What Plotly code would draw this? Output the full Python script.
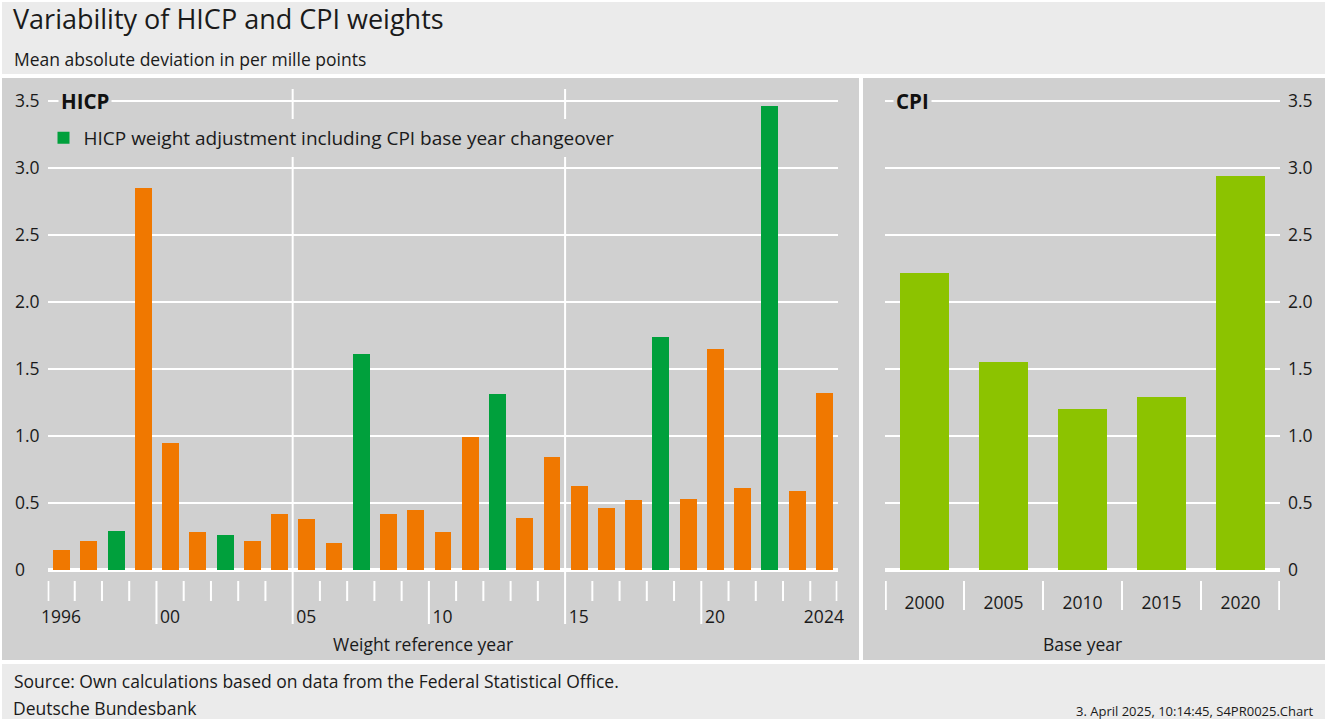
import plotly.graph_objects as go

# ---------------- data ----------------
hicp_years = list(range(1996, 2025))
hicp_values = [0.15, 0.22, 0.29, 2.85, 0.95, 0.28, 0.26, 0.22, 0.42, 0.38,
               0.20, 1.61, 0.42, 0.45, 0.28, 0.99, 1.31, 0.39, 0.84, 0.63,
               0.46, 0.52, 1.74, 0.53, 1.65, 0.61, 3.46, 0.59, 1.32]
adjustment_years = [1998, 2002, 2007, 2012, 2018, 2022]

cpi_years = ["2000", "2005", "2010", "2015", "2020"]
cpi_values = [2.22, 1.55, 1.20, 1.29, 2.94]

y_ticks = [0, 0.5, 1.0, 1.5, 2.0, 2.5, 3.0, 3.5]
y_tick_labels_left = ["0\u2008\u2007", "0.5", "1.0", "1.5", "2.0", "2.5", "3.0", "3.5"]
y_tick_labels_right = ["0", "0.5", "1.0", "1.5", "2.0", "2.5", "3.0", "3.5"]
hicp_tick_years = [1996, 2000, 2005, 2010, 2015, 2020, 2024]
hicp_tick_labels = ["1996", "00", "05", "10", "15", "20", "2024"]

legend_label = "HICP weight adjustment including CPI base year changeover"

# ---------------- style ----------------
W, H = 1328, 722
FONT = "Open Sans"
TXT = "#1a1a1a"
PANEL = "#d0d0d0"
HEAD = "#ebebeb"
ORANGE = "#f07800"
GREEN = "#00a03c"
LIME = "#8cc300"


def px(x):
    return x / W


def py(y):
    return 1 - y / H


zero_px, top35_px, dom_top_px = 570, 101, 87
unit = (zero_px - top35_px) / 3.5
y_top = (zero_px - dom_top_px) / unit

orange_x = [y for y in hicp_years if y not in adjustment_years]
orange_y = [v for y, v in zip(hicp_years, hicp_values) if y not in adjustment_years]
green_x = [y for y in hicp_years if y in adjustment_years]
green_y = [v for y, v in zip(hicp_years, hicp_values) if y in adjustment_years]

fig = go.Figure()
fig.add_bar(x=orange_x, y=orange_y, marker_color=ORANGE, marker_line_width=0,
            width=0.62, showlegend=False, xaxis="x", yaxis="y")
fig.add_bar(x=green_x, y=green_y, marker_color=GREEN, marker_line_width=0,
            width=0.62, name=legend_label, showlegend=True, xaxis="x", yaxis="y")
fig.add_bar(x=cpi_years, y=cpi_values, marker_color=LIME, marker_line_width=0,
            width=0.61, showlegend=False, xaxis="x2", yaxis="y2")

shapes = []
shapes.append(dict(type="rect", xref="paper", yref="paper", x0=px(2), x1=px(1325), y0=py(74), y1=py(2),
                   fillcolor=HEAD, line_width=0, layer="below"))
shapes.append(dict(type="rect", xref="paper", yref="paper", x0=px(2), x1=px(859), y0=py(660), y1=py(78),
                   fillcolor=PANEL, line_width=0, layer="below"))
shapes.append(dict(type="rect", xref="paper", yref="paper", x0=px(863), x1=px(1325), y0=py(660), y1=py(78),
                   fillcolor=PANEL, line_width=0, layer="below"))
shapes.append(dict(type="rect", xref="paper", yref="paper", x0=px(2), x1=px(1325), y0=py(719), y1=py(664),
                   fillcolor=HEAD, line_width=0, layer="below"))

# HICP tick marks below the axis (year boundaries)
for k in range(len(hicp_years) + 1):
    b = hicp_years[0] - 0.5 + k
    if b in (2004.5, 2014.5):
        shapes.append(dict(type="line", xref="x", yref="paper", x0=b, x1=b, y0=py(624), y1=py(89),
                           line=dict(color="white", width=2), layer="below"))
    elif b in (1999.5, 2009.5, 2019.5):
        shapes.append(dict(type="line", xref="x", yref="paper", x0=b, x1=b, y0=py(624), y1=py(581),
                           line=dict(color="white", width=2)))
    else:
        bb = min(max(b, 1995.53), 2024.47)
        shapes.append(dict(type="line", xref="x", yref="paper", x0=bb, x1=bb, y0=py(601), y1=py(581),
                           line=dict(color="white", width=2)))

# CPI tick marks (category boundaries)
for k in range(len(cpi_years) + 1):
    b = min(max(k - 0.5, -0.49), 4.49)
    shapes.append(dict(type="line", xref="x2", yref="paper", x0=b, x1=b, y0=py(610), y1=py(581),
                       line=dict(color="white", width=2)))

fig.update_layout(shapes=shapes)

axis_font = dict(family=FONT, size=17.5, color=TXT)

fig.update_layout(
    template="none",
    width=W, height=H, autosize=False,
    margin=dict(l=0, r=0, t=0, b=0, pad=0, autoexpand=False),
    paper_bgcolor="white", plot_bgcolor="rgba(0,0,0,0)",
    font=dict(family=FONT, color=TXT),
    barmode="overlay",
    xaxis=dict(domain=[px(47.5), px(837.5)], range=[1995.5, 2024.5], anchor="y", automargin=False,
               tickmode="array", tickvals=hicp_tick_years, ticktext=hicp_tick_labels,
               ticks="", showgrid=False, zeroline=False, showline=False,
               tickfont=axis_font, ticklabelstandoff=34, fixedrange=True),
    yaxis=dict(domain=[py(zero_px), py(dom_top_px)], range=[0, y_top], anchor="x", automargin=False,
               tickmode="array", tickvals=y_ticks, ticktext=y_tick_labels_left,
               ticks="", showgrid=True, gridcolor="white", gridwidth=2,
               zeroline=True, zerolinecolor="white", zerolinewidth=4, showline=False,
               tickfont=axis_font, ticklabelstandoff=7, fixedrange=True),
    xaxis2=dict(domain=[px(885), px(1280)], range=[-0.5, 4.5], anchor="y2", type="category",
                automargin=False, ticks="", showgrid=False, zeroline=False, showline=False,
                tickfont=axis_font, ticklabelstandoff=20, fixedrange=True),
    yaxis2=dict(domain=[py(zero_px), py(dom_top_px)], range=[0, y_top], anchor="x2", side="right",
                automargin=False, tickmode="array", tickvals=y_ticks, ticktext=y_tick_labels_right,
                ticks="", showgrid=True, gridcolor="white", gridwidth=2,
                zeroline=True, zerolinecolor="white", zerolinewidth=4, showline=False,
                tickfont=axis_font, ticklabelstandoff=7, fixedrange=True),
    legend=dict(x=px(43.5), y=py(138), xanchor="left", yanchor="middle",
                bgcolor=PANEL, borderwidth=0, font=dict(family=FONT, size=19, color=TXT),
                itemclick=False, itemdoubleclick=False),
    bargap=0,
)

ann = [
    dict(text="Variability of HICP and CPI weights", x=px(12), y=py(18.5), xref="paper", yref="paper",
         xanchor="left", yanchor="middle", showarrow=False, borderpad=0,
         font=dict(family=FONT, size=27, color=TXT)),
    dict(text="Mean absolute deviation in per mille points", x=px(12), y=py(59), xref="paper", yref="paper",
         xanchor="left", yanchor="middle", showarrow=False, font=dict(family=FONT, size=17.5, color=TXT)),
    dict(text="<b>HICP</b>", x=px(58), y=3.5, xref="paper", yref="y",
         xanchor="left", yanchor="middle", showarrow=False, bgcolor=PANEL, borderpad=2,
         font=dict(family=FONT, size=20.5, color="#111111")),
    dict(text="<b>CPI</b>", x=px(893), y=3.5, xref="paper", yref="y2",
         xanchor="left", yanchor="middle", showarrow=False, bgcolor=PANEL, borderpad=2,
         font=dict(family=FONT, size=20.5, color="#111111")),
    dict(text="Weight reference year", x=px(423), y=py(644), xref="paper", yref="paper",
         xanchor="center", yanchor="middle", showarrow=False, font=axis_font),
    dict(text="Base year", x=px(1082), y=py(644), xref="paper", yref="paper",
         xanchor="center", yanchor="middle", showarrow=False, font=axis_font),
    dict(text="Source: Own calculations based on data from the Federal Statistical Office.", x=px(12), y=py(681),
         xref="paper", yref="paper", xanchor="left", yanchor="middle", showarrow=False,
         font=dict(family=FONT, size=17.5, color=TXT)),
    dict(text="Deutsche Bundesbank", x=px(12), y=py(708), xref="paper", yref="paper",
         xanchor="left", yanchor="middle", showarrow=False, borderpad=0,
         font=dict(family=FONT, size=17.5, color=TXT)),
    dict(text="3. April 2025, 10:14:45, S4PR0025.Chart", x=px(1315), y=py(711), xref="paper", yref="paper",
         xanchor="right", yanchor="middle", showarrow=False, borderpad=0,
         font=dict(family=FONT, size=13, color=TXT)),
]
fig.update_layout(annotations=ann)

# The page first fits the window together with the default body margin;
# after plotting, the margin is removed and the figure takes its full size.
fig.update_layout(width=W - 16, height=H - 16)
post = ("document.documentElement.style.margin='0';document.body.style.margin='0';"
        "var gd=document.getElementById('{plot_id}');"
        "gd.style.width='%dpx';gd.style.height='%dpx';"
        "Plotly.relayout(gd,{width:%d,height:%d});" % (W, H, W, H))

fig.write_html("out.html", config={"displayModeBar": False}, post_script=post)
